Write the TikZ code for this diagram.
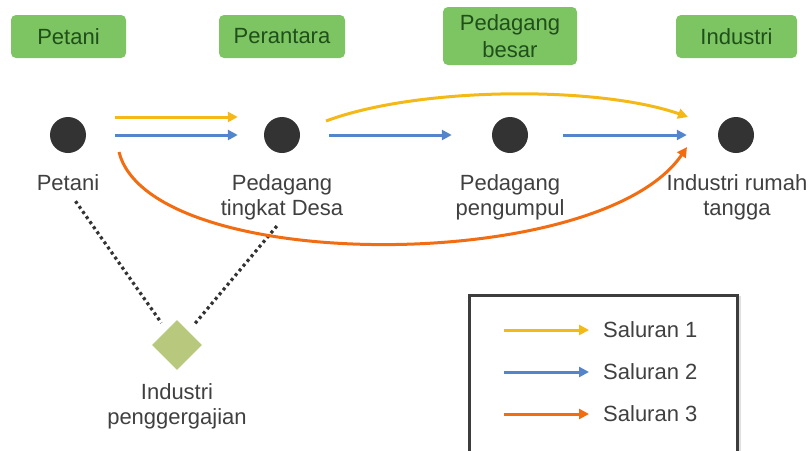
\documentclass[tikz,border=0pt]{standalone}
\usepackage{fontspec}
\setmainfont{Liberation Sans}
\usetikzlibrary{arrows.meta,shapes.geometric,calc}

\definecolor{hdrgreen}{HTML}{7DC462}
\definecolor{hdrtext}{HTML}{1F4F1A}
\definecolor{lbltext}{HTML}{404040}
\definecolor{dotgrey}{HTML}{333333}
\definecolor{ch1}{HTML}{F4B916}
\definecolor{ch2}{HTML}{5485CB}
\definecolor{ch3}{HTML}{F26C12}
\definecolor{mill}{HTML}{B8C97E}

\tikzset{
  header/.style={fill=hdrgreen, rounded corners=5pt, text=hdrtext, align=center,
    font=\fontsize{22}{27}\selectfont, inner sep=0pt},
  actor/.style={circle, fill=dotgrey, minimum size=36pt, inner sep=0pt},
  actorlabel/.style={text=lbltext, align=center, inner sep=0pt,
    font=\fontsize{22}{25}\selectfont},
  flow/.style={line width=3pt, -{Triangle[length=10pt,width=10pt]}},
  chan1/.style={flow, draw=ch1},
  chan2/.style={flow, draw=ch2},
  chan3/.style={flow, draw=ch3},
  link/.style={draw=dotgrey, line width=3.2pt, dash pattern=on 3pt off 3.2pt},
}

\begin{document}
\begin{tikzpicture}[x=1pt,y=-1pt]
  \useasboundingbox (0,0) rectangle (810,450);

  % column headings
  \node[header, minimum width=115pt, minimum height=43pt] (hPetani) at (68.5,36.5) {Petani};
  \node[header, minimum width=126pt, minimum height=43pt] (hPerantara) at (282,36.5) {Perantara};
  \node[header, minimum width=134pt, minimum height=58pt] (hBesar) at (510,36) {Pedagang\\besar};
  \node[header, minimum width=121pt, minimum height=43pt] (hIndustri) at (736.5,36.5) {Industri};

  % marketing actors
  \node[actor] (farmer) at (68,135) {};
  \node[actor] (village) at (282,135) {};
  \node[actor] (collector) at (510,135) {};
  \node[actor] (home) at (736,135) {};

  \node[actorlabel, anchor=north] (lFarmer) at (68,174) {Petani};
  \node[actorlabel, anchor=north] (lVillage) at (282,174) {Pedagang\\tingkat Desa};
  \node[actorlabel, anchor=north] (lCollector) at (510,174) {Pedagang\\pengumpul};
  \node[actorlabel, anchor=north] (lHome) at (737,174) {Industri rumah\\tangga};

  % sawmill
  \node[diamond, fill=mill, minimum width=50pt, minimum height=50pt, inner sep=0pt] (mill) at (177,345) {};
  \node[actorlabel, anchor=north] (lMill) at (177,383) {Industri\\penggergajian};

  \draw[link, shorten <=13pt, shorten >=9pt] (lFarmer.south) -- (mill);
  \draw[link, shorten <=8pt, shorten >=9pt] (lVillage.south) -- (mill);

  % channel 1
  \draw[chan1, shorten <=29pt, shorten >=26pt] ([yshift=18pt]farmer.east) -- ([yshift=18pt]village.west);
  \draw[chan1] ([shift={(44,-14)}]village.center) .. controls (420,86) and (600,86) .. ([shift={(-48,-18)}]home.center);

  % channel 2
  \draw[chan2, shorten <=29pt, shorten >=26pt] (farmer) -- (village);
  \draw[chan2, shorten <=29pt, shorten >=40pt] (village) -- (collector);
  \draw[chan2, shorten <=35pt, shorten >=31pt] (collector) -- (home);

  % channel 3
  \draw[chan3] ([shift={(51,17)}]farmer.center) .. controls (150,275) and (600,275) .. ([shift={(-49,12)}]home.center);

  % legend
  \draw[draw=black!12, line width=3pt] (471,297) rectangle (739,462);
  \draw[draw=dotgrey!95, fill=white, line width=3pt] (469,295) rectangle (737,460);
  \node[actorlabel, anchor=west] (key1) at (603,330) {Saluran 1};
  \node[actorlabel, anchor=west] (key2) at (603,372) {Saluran 2};
  \node[actorlabel, anchor=west] (key3) at (603,414) {Saluran 3};
  \coordinate (k1) at (504,330);
  \coordinate (k2) at (504,372);
  \coordinate (k3) at (504,414);
  \draw[chan1, shorten >=14pt] (k1) -- (key1.west);
  \draw[chan2, shorten >=14pt] (k2) -- (key2.west);
  \draw[chan3, shorten >=14pt] (k3) -- (key3.west);
\end{tikzpicture}
\end{document}
